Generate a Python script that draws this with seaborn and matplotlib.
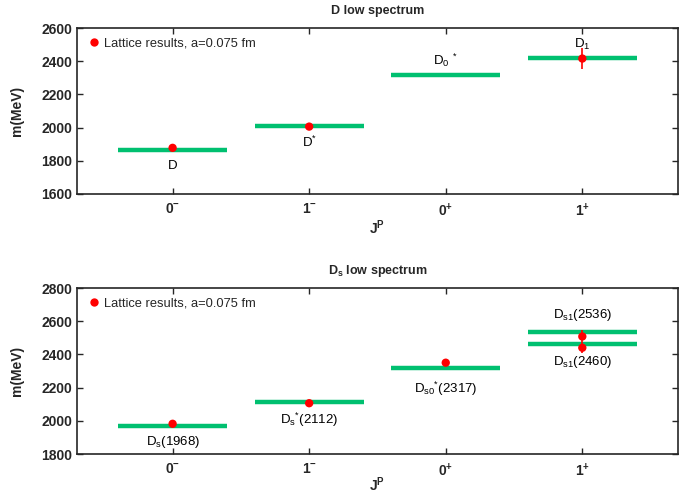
import numpy as np
import pandas as pd
import matplotlib
matplotlib.use("Agg")
import matplotlib.pyplot as plt
import seaborn as sns

sns.set_style("ticks")
plt.rcParams['font.family'] = ['Liberation Sans', 'DejaVu Sans']
plt.rcParams['mathtext.fontset'] = 'custom'
plt.rcParams['mathtext.rm'] = 'Liberation Sans'
plt.rcParams['mathtext.it'] = 'Liberation Sans'
plt.rcParams['mathtext.bf'] = 'Liberation Sans:bold'

# ---- data ----
jp_labels = [r'$\mathbf{0^{-}}$', r'$\mathbf{1^{-}}$', r'$\mathbf{0^{+}}$', r'$\mathbf{1^{+}}$']

# D mesons: experimental levels
d_exp_jp = [0, 1, 2, 3]
d_exp_mass = [1868, 2010, 2318, 2422]
d_exp_names = ['D', r'D$^{*}$', r'D$_0$$^{\ *}$', r'D$_1$']
# D lattice results
d_lat_jp = [0, 1, 3]
d_lat_mass = [1878, 2006, 2416]
d_lat_err = [4, 5, 65]

# Ds mesons: experimental levels
ds_exp_jp = [0, 1, 2, 3, 3]
ds_exp_mass = [1968, 2112, 2317, 2536, 2460]
ds_exp_names = [r'D$_s$(1968)', r'D$_s$$^{*}$(2112)', r'D$_{s0}$$^{*}$(2317)',
                r'D$_{s1}$(2536)', r'D$_{s1}$(2460)']
# Ds lattice results
ds_lat_jp = [0, 1, 2, 3, 3]
ds_lat_mass = [1982, 2106, 2350, 2508, 2440]
ds_lat_err = [4, 4, 12, 38, 30]

# label placement (offsets from the level, MeV)
d_label_dy = [-98, -97, 88, 76]
ds_label_dy = [-97, -107, -125, 100, -106]

GREEN = '#00c070'
RED = '#ff0000'

fig = plt.figure(figsize=(6.79, 4.93), dpi=100)
ax1 = fig.add_axes([0.1134, 0.6065, 0.885, 0.3367])
ax2 = fig.add_axes([0.1134, 0.0791, 0.885, 0.3367])


def draw(ax, exp_jp, exp_mass, names, dys, lat_jp, lat_mass, lat_err, ylim, yticks, title, xlpad):
    ax.hlines(exp_mass, np.array(exp_jp) - 0.4, np.array(exp_jp) + 0.4,
              color=GREEN, lw=3.2, zorder=2)
    for x, m, n, dy in zip(exp_jp, exp_mass, names, dys):
        ax.text(x, m + dy, n, ha='center', va='center', fontsize=9.5, color='black')
    ax.errorbar(lat_jp, lat_mass, yerr=lat_err, fmt='none', ecolor=RED, elinewidth=1.2,
                capsize=0, zorder=3)
    df = pd.DataFrame({'jp': lat_jp, 'm': lat_mass,
                       'lab': ['Lattice results, a=0.075 fm'] * len(lat_jp)})
    sns.scatterplot(data=df, x='jp', y='m', hue='lab', palette=[RED], s=36,
                    edgecolor='none', ax=ax, zorder=4)
    ax.set_xlim(-0.7, 3.7)
    ax.set_ylim(*ylim)
    ax.set_xticks([0, 1, 2, 3])
    ax.set_xticklabels(jp_labels, fontsize=10)
    ax.set_yticks(yticks)
    ax.set_yticklabels([str(t) for t in yticks], fontsize=10, fontweight='bold')
    ax.tick_params(direction='in', top=True, right=True, length=4, width=1)
    ax.tick_params(axis='x', pad=6)
    for s in ax.spines.values():
        s.set_linewidth(1.2)
    ax.set_xlabel(r'$\mathbf{J^P}$', fontsize=10, labelpad=xlpad)
    ax.set_ylabel('m(MeV)', fontsize=10, fontweight='bold', labelpad=12)
    ax.set_title(title, fontsize=9, fontweight='bold', pad=10)
    ax.legend(loc='upper left', frameon=False, fontsize=9.3, handletextpad=0.2,
              borderaxespad=0.3, markerscale=1.0, handlelength=1.2)


draw(ax1, d_exp_jp, d_exp_mass, d_exp_names, d_label_dy, d_lat_jp, d_lat_mass, d_lat_err,
     (1600, 2600), [1600, 1800, 2000, 2200, 2400, 2600], 'D low spectrum', -1)
draw(ax2, ds_exp_jp, ds_exp_mass, ds_exp_names, ds_label_dy, ds_lat_jp, ds_lat_mass, ds_lat_err,
     (1800, 2800), [1800, 2000, 2200, 2400, 2600, 2800], r'D$_\mathbf{s}$ low spectrum', -3)

fig.savefig('out.png', dpi=100)
